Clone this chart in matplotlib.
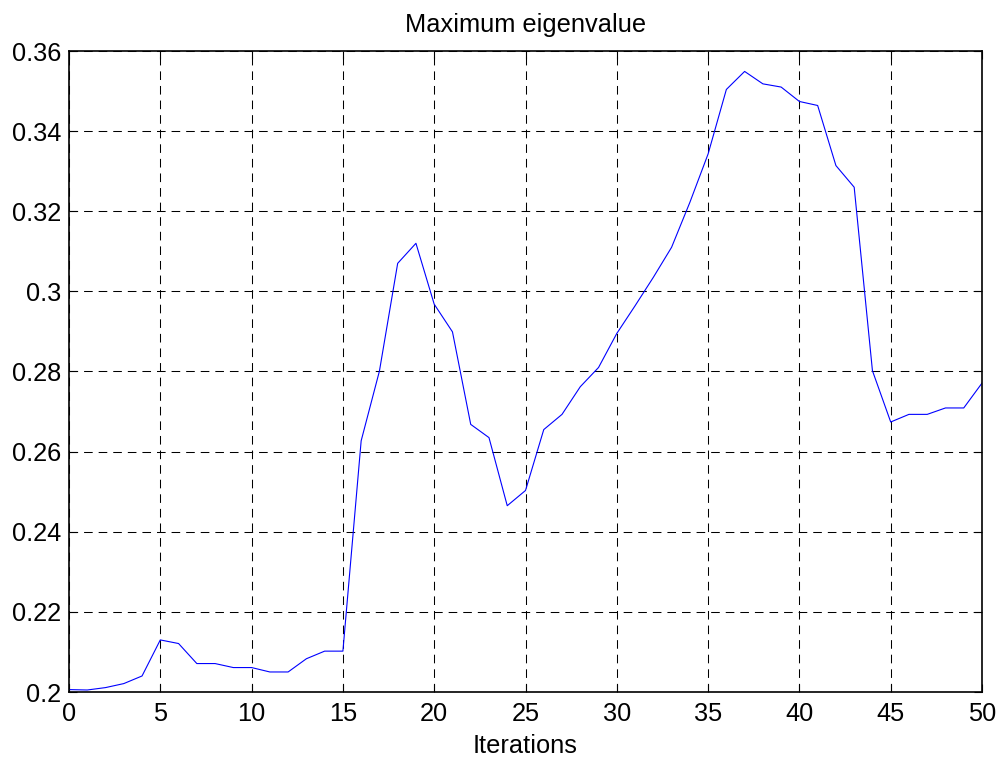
import matplotlib
matplotlib.use("Agg")
import matplotlib.pyplot as plt

plt.rcParams['font.family'] = ['Liberation Sans', 'DejaVu Sans']
plt.rcParams['lines.scale_dashes'] = False

iterations = list(range(0, 51))
max_eigenvalue = [
    0.2006, 0.2005, 0.2011, 0.2021, 0.2040, 0.2130, 0.2121, 0.2071, 0.2071, 0.2061,
    0.2061, 0.2050, 0.2050, 0.2083, 0.2102, 0.2102, 0.2627, 0.2801, 0.3070, 0.3120,
    0.2968, 0.2899, 0.2668, 0.2635, 0.2465, 0.2503, 0.2655, 0.2693, 0.2762, 0.2810,
    0.2895, 0.2964, 0.3035, 0.3110, 0.3222, 0.3343, 0.3504, 0.3549, 0.3518, 0.3510,
    0.3474, 0.3464, 0.3314, 0.3260, 0.2802, 0.2674, 0.2693, 0.2693, 0.2709, 0.2709,
    0.2771,
]
x_ticks = [0, 5, 10, 15, 20, 25, 30, 35, 40, 45, 50]
y_ticks = [0.20, 0.22, 0.24, 0.26, 0.28, 0.30, 0.32, 0.34, 0.36]
y_tick_labels = ['0.2', '0.22', '0.24', '0.26', '0.28', '0.3', '0.32', '0.34', '0.36']

fig = plt.figure(figsize=(10.05, 7.67), dpi=100)
ax = fig.add_axes([69 / 1005, 1 - 692 / 767, (982 - 69) / 1005, (692 - 51) / 767])

ax.plot(iterations, max_eigenvalue, color=(0, 0, 1), linewidth=0.8)

ax.set_xlim(0, 50)
ax.set_ylim(0.2, 0.36)
ax.set_xticks(x_ticks)
ax.set_yticks(y_ticks)
ax.set_yticklabels(y_tick_labels)

ax.grid(True, color='black', linewidth=0.75, linestyle=(0, (6.2, 4.3)))
ax.tick_params(direction='in', length=6, width=0.8, top=True, right=True,
               labelsize=18.3, colors='black')
ax.tick_params(axis='x', pad=7)
ax.tick_params(axis='y', pad=5.5)
for s in ax.spines.values():
    s.set_linewidth(1.2)
    s.set_color('black')

ax.set_title('Maximum eigenvalue', fontsize=18.3, pad=14)
ax.set_xlabel('Iterations', fontsize=18.3, labelpad=6)

fig.savefig('out.png', dpi=100)
